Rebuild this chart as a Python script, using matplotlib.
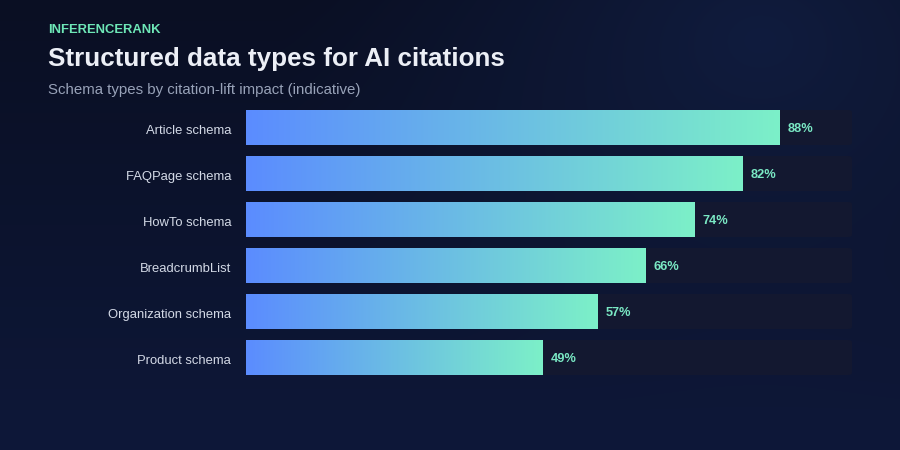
import matplotlib.pyplot as plt
import numpy as np
from matplotlib.colors import LinearSegmentedColormap, to_rgb
from matplotlib.patches import FancyBboxPatch

plt.rcParams["font.family"] = ["Liberation Sans", "DejaVu Sans"]

# data
categories = [
    "Article schema",
    "FAQPage schema",
    "HowTo schema",
    "BreadcrumbList",
    "Organization schema",
    "Product schema",
]
# bar lengths as drawn, and the labels printed beside them
values = [88, 82, 74, 66, 58, 49]
value_labels = ["88%", "82%", "74%", "66%", "57%", "49%"]

BRAND = "INFERENCERANK"
TITLE = "Structured data types for AI citations"
SUBTITLE = "Schema types by citation-lift impact (indicative)"

W, H = 900, 450
BAR_START, BAR_FULL = 246, 852
ROW_TOP, ROW_PITCH, BAR_H = 127.5, 46, 35

bar_cmap = LinearSegmentedColormap.from_list("bar", ["#5b8cff", "#7cf0c8"])

fig = plt.figure(figsize=(W / 100, H / 100), dpi=100)

# background: vertical gradient plus a soft glow towards the upper right
bg = fig.add_axes([0, 0, 1, 1], zorder=0)
yy, xx = np.mgrid[0:H, 0:W]
top_c, bot_c, glow_c = (np.array(to_rgb(c)) for c in ("#0a0f23", "#0e1839", "#101c3e"))
t = (yy / H)[..., None]
img = top_c * (1 - t) + bot_c * t
dist = np.hypot((xx - 760) / 480, (yy - 40) / 380)
g = (np.clip(1 - dist, 0, 1) ** 1.2)[..., None]
img = img * (1 - g) + glow_c * g
bg.imshow(img, extent=[0, W, H, 0], aspect="auto")
bg.set_xlim(0, W)
bg.set_ylim(H, 0)
bg.axis("off")

# bar axes mapped so 0..100 spans the track width
n = len(categories)
top_px = ROW_TOP - ROW_PITCH / 2
bot_px = ROW_TOP + ROW_PITCH * (n - 1) + ROW_PITCH / 2
ax = fig.add_axes(
    [BAR_START / W, 1 - bot_px / H, (BAR_FULL - BAR_START) / W, (bot_px - top_px) / H],
    zorder=1,
)
ax.axis("off")
ax.patch.set_alpha(0)

h = BAR_H / ROW_PITCH
grad = np.linspace(0, 1, 256).reshape(1, -1)
for i, (label, value, vlabel) in enumerate(zip(categories, values, value_labels)):
    track = FancyBboxPatch(
        (0, i - h / 2), 100, h,
        boxstyle="round,pad=0,rounding_size=0.6",
        mutation_aspect=0.09,
        facecolor="#131830", edgecolor="none", zorder=1,
    )
    ax.add_patch(track)
    ax.imshow(
        grad, cmap=bar_cmap, aspect="auto",
        extent=[0, value, i + h / 2, i - h / 2], zorder=2,
    )
    ax.text(
        value + 1.3, i, vlabel,
        color="#7ae8c4", fontsize=9.2, fontweight="bold",
        ha="left", va="center_baseline", zorder=3,
    )
    ax.text(
        -2.45, i + 0.045, label,
        color="#d3d9e6", fontsize=9.4,
        ha="right", va="center_baseline", zorder=3,
    )
ax.set_xlim(0, 100)
ax.set_ylim(n - 0.5, -0.5)

fig.text(48 / W, 1 - 33 / H, BRAND, color="#6ee7b7", fontsize=9.4,
         fontweight="bold", ha="left", va="baseline")
fig.text(48 / W, 1 - 66 / H, TITLE, color="#eceff6", fontsize=18.7,
         fontweight="bold", ha="left", va="baseline")
fig.text(48 / W, 1 - 94 / H, SUBTITLE, color="#98a2b8", fontsize=10.8,
         ha="left", va="baseline")

fig.savefig("out.png", dpi=100)
